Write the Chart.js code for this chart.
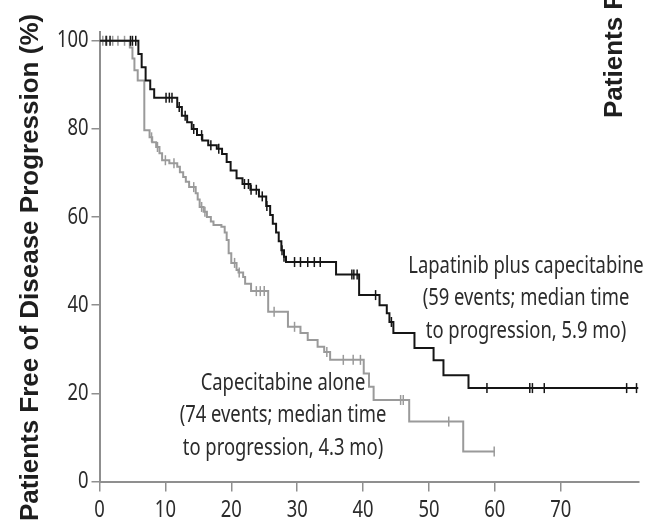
<!DOCTYPE html>
<html>
<head>
<meta charset="utf-8">
<script src="https://cdn.jsdelivr.net/npm/chart.js@4/dist/chart.umd.min.js"></script>
<style>
  html, body { margin: 0; padding: 0; background: #fff; }
  #pfsChart { display: block; }
</style>
</head>
<body>
<canvas id="pfsChart" width="645" height="523"></canvas>
<script>
// Kaplan-Meier steps: month at which the value starts, % free of progression
const lapMonths = [0, 5.9, 6.4, 7.0, 7.7, 8.3, 11.8, 12.5, 13.3, 14.0, 14.8, 15.6, 16.5, 17.8, 18.6, 19.3, 19.9, 20.8, 21.7, 22.9, 24.2, 25.3, 25.9, 26.3, 26.8, 27.2, 27.6, 28.0, 28.3, 35.9, 39.4, 42.5, 43.6, 44.0, 44.6, 47.8, 50.7, 52.2, 56.0, 81.8];
const lapSurv   = [100, 97, 94, 91, 89, 87.1, 85, 83, 81.5, 80, 78.6, 77.4, 76.3, 75.5, 74.3, 72.5, 70.6, 68.8, 67.5, 66.2, 64.7, 62.5, 60.5, 58.5, 56.5, 54.5, 52.5, 51, 49.8, 47.0, 42.3, 40, 38.2, 36.2, 33.7, 30.3, 27.5, 24.1, 21.2, 21.2];
const lapCensored = [1.0, 1.6, 4.7, 5.0, 5.5, 10.1, 10.6, 11.0, 12.1, 13.0, 14.3, 15.5, 16.9, 18.1, 22.0, 22.6, 23.0, 23.8, 24.7, 25.4, 27.7, 28.0, 29.6, 30.5, 31.6, 32.6, 33.5, 38.3, 38.6, 39.1, 41.9, 44.3, 58.8, 65.3, 65.7, 67.5, 80.0, 81.5];

const capMonths = [0, 4.6, 5.0, 5.3, 5.8, 6.8, 7.6, 8.0, 8.6, 9.1, 9.5, 10.6, 11.8, 12.2, 12.7, 13.1, 13.6, 14.6, 14.9, 15.2, 15.8, 16.3, 16.9, 17.3, 18.5, 19.0, 19.3, 19.6, 20.0, 20.8, 21.1, 21.8, 22.1, 23.0, 25.6, 28.6, 30.5, 31.6, 33.1, 34.1, 35.0, 40.1, 40.9, 41.6, 47.0, 55.2, 60.0];
const capSurv   = [100, 98.5, 96, 93.3, 91, 79.7, 78.1, 77, 75.9, 74.5, 72.9, 72.2, 71.4, 70.2, 69.1, 68, 66.8, 65.4, 64, 62.3, 61.2, 60, 59, 58.2, 57.8, 56.5, 54.8, 51.8, 49.6, 48, 47.4, 46.4, 44.9, 43.2, 38.5, 35.1, 33.7, 32.1, 30.6, 29.4, 27.6, 24.5, 21.5, 18.5, 13.6, 6.8, 6.8];
const capCensored = [0.5, 1.1, 2.0, 2.8, 3.8, 7.9, 8.8, 10.0, 11.3, 14.3, 15.5, 16.0, 20.5, 21.2, 23.8, 24.4, 25.0, 26.5, 29.6, 34.5, 37.0, 38.5, 39.6, 45.7, 46.1, 53.0, 59.9];

const xTicks = [0, 10, 20, 30, 40, 50, 60, 70];
const yTicks = [0, 20, 40, 60, 80, 100];

const lapLabel = ['Lapatinib plus capecitabine', '(59 events; median time', 'to progression, 5.9 mo)'];
const capLabel = ['Capecitabine alone', '(74 events; median time', 'to progression, 4.3 mo)'];
const yTitle = 'Patients Free of Disease Progression (%)';

const SANS = '"Noto Sans", "Open Sans", sans-serif';
const SQUEEZE = 0.8;  // horizontal squeeze for the narrow face
const TEXT = '#2b2b2b';
const BLACK = '#151515';
const GREY = '#9a9a9a';
const AXIS = '#8f8f8f';

function toPoints(months, surv) {
  return months.map((m, i) => ({ x: m, y: surv[i] }));
}

// value of the step curve at time t
function survAt(months, surv, t) {
  let v = surv[0];
  for (let i = 0; i < months.length; i++) {
    if (months[i] <= t) v = surv[i];
  }
  return v;
}

function censorPoints(times, months, surv) {
  return times.map(t => ({ x: t, y: survAt(months, surv, t) }));
}

// text drawn with a horizontal squeeze, anchored at x
function narrowText(ctx, text, x, y, align) {
  ctx.save();
  ctx.translate(x, y);
  ctx.scale(SQUEEZE, 1);
  ctx.textAlign = align;
  ctx.fillText(text, 0, 0);
  ctx.restore();
}

const censorStyle = {
  showLine: false,
  pointStyle: 'line',
  rotation: 90,
  pointRadius: 5,
  pointBorderWidth: 1.5,
  clip: false
};

const textPlugin = {
  id: 'kmText',
  afterDraw(chart) {
    const ctx = chart.ctx;
    const xs = chart.scales.x;
    const ys = chart.scales.y;
    ctx.save();
    ctx.fillStyle = TEXT;
    ctx.textBaseline = 'middle';

    // tick labels
    ctx.font = '23px ' + SANS;
    xTicks.forEach(v => narrowText(ctx, String(v), xs.getPixelForValue(v), ys.bottom + 29, 'center'));
    yTicks.forEach(v => narrowText(ctx, String(v), ys.left + ys.width - 11, ys.getPixelForValue(v), 'right'));

    // curve labels
    ctx.font = '23px ' + SANS;
    lapLabel.forEach((t, i) => narrowText(ctx, t, 526, 266 + i * 32.5, 'center'));
    capLabel.forEach((t, i) => narrowText(ctx, t, 283, 383 + i * 32.5, 'center'));

    // axis titles
    ctx.fillStyle = '#1e1e1e';
    ctx.font = 'bold 26px "Liberation Sans", Arial, sans-serif';
    ctx.textAlign = 'left';
    ctx.textBaseline = 'alphabetic';
    ctx.save();
    ctx.translate(38, 521);
    ctx.rotate(-Math.PI / 2);
    ctx.fillText(yTitle, 0, 0);
    ctx.restore();
    // neighbouring panel's axis title, cut by the right edge
    ctx.save();
    ctx.translate(622, 118);
    ctx.rotate(-Math.PI / 2);
    ctx.fillText(yTitle, 0, 0);
    ctx.restore();
    ctx.restore();
  }
};

new Chart(document.getElementById('pfsChart').getContext('2d'), {
  type: 'line',
  data: {
    datasets: [
      {
        label: 'Lapatinib plus capecitabine',
        data: toPoints(lapMonths, lapSurv),
        stepped: true,
        borderColor: BLACK,
        borderWidth: 2,
        pointRadius: 0
      },
      {
        label: 'Lapatinib censored',
        data: censorPoints(lapCensored, lapMonths, lapSurv),
        borderColor: BLACK,
        backgroundColor: BLACK,
        ...censorStyle
      },
      {
        label: 'Capecitabine alone',
        data: toPoints(capMonths, capSurv),
        stepped: true,
        borderColor: GREY,
        borderWidth: 2,
        pointRadius: 0
      },
      {
        label: 'Capecitabine censored',
        data: censorPoints(capCensored, capMonths, capSurv),
        borderColor: GREY,
        backgroundColor: GREY,
        ...censorStyle
      }
    ]
  },
  options: {
    responsive: false,
    animation: false,
    devicePixelRatio: 1,
    layout: { padding: { top: 32, right: 0, bottom: 0, left: 0 } },
    plugins: {
      legend: { display: false },
      tooltip: { enabled: false }
    },
    scales: {
      x: {
        type: 'linear',
        min: 0,
        max: 81.8,
        afterFit(scale) { scale.height = 41.5; },
        afterBuildTicks(scale) { scale.ticks = xTicks.map(v => ({ value: v })); },
        ticks: { display: false },
        grid: { drawOnChartArea: false, tickLength: 10, color: AXIS, lineWidth: 1.5 },
        border: { color: AXIS, width: 2 }
      },
      y: {
        min: 0,
        max: 102,
        afterFit(scale) { scale.width = 99.5; },
        afterBuildTicks(scale) { scale.ticks = yTicks.map(v => ({ value: v })); },
        ticks: { display: false },
        grid: { drawOnChartArea: false, tickLength: 8, color: AXIS, lineWidth: 1.5 },
        border: { color: AXIS, width: 2 }
      }
    }
  },
  plugins: [textPlugin]
});
</script>
</body>
</html>
